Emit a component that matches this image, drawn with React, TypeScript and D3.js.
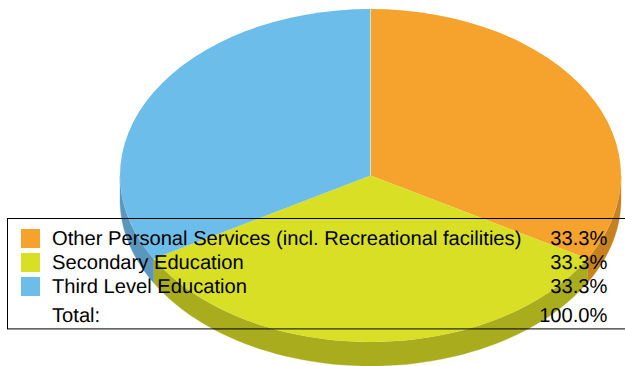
import React, { useEffect } from "react";
import * as d3 from "d3";

const categories = ["Other Personal Services (incl. Recreational facilities)", "Secondary Education", "Third Level Education"];
const values = [33.3, 33.3, 33.3];
const percentLabels = ["33.3%", "33.3%", "33.3%"];
const totalLabel = "Total:";
const totalValue = "100.0%";
const topColors = ["#f6a32d", "#d8df25", "#6cbde9"];
const sideColors = ["#c5821f", "#a9ac1d", "#5b96bd"];

const W = 625, H = 366;
const cx = 370.5, cy = 175.5, rx = 250.5, ry = 166.5, depth = 24;
const FONT = "'Liberation Sans', Arial, sans-serif";

export default function App() {
  useEffect(() => {
    document.body.style.margin = "0";
  }, []);
  const slices = d3.pie<number>().sort(null)(values);
  const arc = d3.arc<d3.PieArcDatum<number>>().innerRadius(0).outerRadius(1);
  const px = (a: number) => rx * Math.sin(a);
  const py = (a: number) => -ry * Math.cos(a);

  const sidePath = (s: d3.PieArcDatum<number>) => {
    const a0 = Math.max(s.startAngle, Math.PI / 2);
    const a1 = Math.min(s.endAngle, (3 * Math.PI) / 2);
    if (a1 <= a0) return "";
    const steps = d3.range(0, 61).map((i) => a0 + ((a1 - a0) * i) / 60);
    const line = d3.line<[number, number]>();
    const pts: [number, number][] = [
      ...steps.map((a) => [px(a), py(a)] as [number, number]),
      ...steps.slice().reverse().map((a) => [px(a), py(a) + depth] as [number, number]),
    ];
    return line(pts) + "Z";
  };
  const legendY = d3.scalePoint<number>().domain([0, 1, 2]).range([229, 277]);

  return (
    <svg width={W} height={H} viewBox={`0 0 ${W} ${H}`} style={{ position: "absolute", left: 0, top: 0, display: "block" }}>
      <g transform={`translate(${cx},${cy})`}>
        {slices.map((s, i) => (
          <path key={i} d={sidePath(s)} fill={sideColors[i]} stroke={sideColors[i]} strokeWidth={0.3} />
        ))}
        {slices.map((s, i) => (
          <path key={i} d={arc(s) ?? ""} transform={`scale(${rx},${ry})`} fill={topColors[i]} stroke="none" />
        ))}
        <line x1={0} x2={0} y1={0} y2={-ry} stroke="#ffffff" strokeOpacity={0.45} strokeWidth={1} />
      </g>
      <rect x={7.5} y={218.5} width={W + 10} height={110.4} fill="none" stroke="#000" strokeWidth={1} />
      <g fontFamily={FONT} fontSize={20.17} fill="#000" style={{ textRendering: "geometricPrecision" }}>
        {categories.map((c, i) => (
          <g key={c}>
            <rect x={21} y={legendY(i)} width={19} height={19} fill={topColors[i]} />
            <text x={52} y={(legendY(i) as number) + 16}>{c}</text>
            <text x={607.5} y={(legendY(i) as number) + 16} textAnchor="end">{percentLabels[i]}</text>
          </g>
        ))}
        <text x={52} y={322}>{totalLabel}</text>
        <text x={607.5} y={322} textAnchor="end">{totalValue}</text>
      </g>
    </svg>
  );
}
